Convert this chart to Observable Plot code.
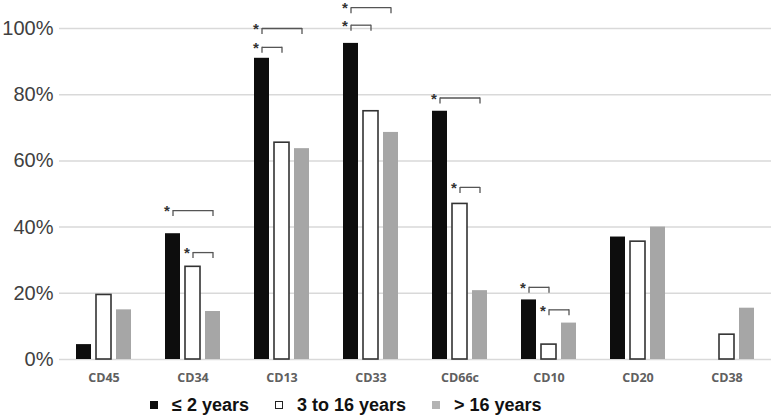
<!DOCTYPE html>
<html><head><meta charset="utf-8">
<script src="https://cdn.jsdelivr.net/npm/d3@7"></script>
<script src="https://cdn.jsdelivr.net/npm/@observablehq/plot@0.6"></script>
<style>
body{margin:0;background:#fff;width:772px;height:418px;overflow:hidden;}
#legend{display:flex;align-items:center;height:30px;padding-left:150px;font:bold 18px "Liberation Sans",Arial,sans-serif;color:#111;}
#legend .item{display:flex;align-items:center;margin-right:26px;}
#legend .sw{width:8px;height:8px;margin-right:14px;box-sizing:border-box;}
</style></head><body><div id="chart"></div><div id="legend"></div>
<script>
const markers = ["CD45","CD34","CD13","CD33","CD66c","CD10","CD20","CD38"];
const groups = ["≤ 2 years","3 to 16 years","> 16 years"];
const upTo2 = [4.5,38,91,95.5,75,18,37,0];
const from3to16 = [19.5,28,65.5,75,47,4.5,35.6,7.5];
const over16 = [15,14.5,63.7,68.6,20.8,11,40,15.5];
const yTicks = [0,20,40,60,80,100];
const bracketMarker = ["CD34","CD34","CD13","CD13","CD33","CD33","CD66c","CD66c","CD10","CD10"];
const bracketFrom = [0,1,0,0,0,0,0,1,0,1];
const bracketTo   = [2,2,2,1,2,1,2,2,1,2];
const bracketLevel = [45,32.3,100,94.3,106.3,101,79,52,21.8,15];

const fills = ["#0d0d0d","#ffffff","#a6a6a6"];
const strokes = [undefined,"#333333",undefined];

const series = [upTo2, from3to16, over16];
const data = markers.flatMap((m,i)=>series.map((s,j)=>({marker:m, group:groups[j], value:s[i]}))).filter(d=>d.value>0);
const brackets = bracketMarker.map((m,i)=>({marker:m, from:groups[bracketFrom[i]], to:groups[bracketTo[i]], level:bracketLevel[i]}));
const ends = brackets.flatMap(b=>[{marker:b.marker,g:b.from,level:b.level},{marker:b.marker,g:b.to,level:b.level}]);

const chart = Plot.plot({
  width:772, height:390, marginLeft:58, marginRight:0, marginTop:28, marginBottom:31,
  style:{fontFamily:"'Liberation Sans',Arial,sans-serif", background:"#fff"},
  fx:{domain:markers, padding:0, label:null},
  x:{domain:groups, paddingInner:0.25, paddingOuter:0.85, axis:null},
  y:{domain:[0,100], label:null},
  marks:[
    Plot.gridY(yTicks, {stroke:"#d9d9d9", strokeOpacity:1, strokeWidth:1.5}),
    Plot.axisY(yTicks, {tickFormat:d=>d+"%", tickSize:0, tickPadding:6, fontSize:20, fill:"#404040", label:null}),
    Plot.axisFx({tickSize:0, tickPadding:14, fontSize:12.5, fontWeight:"bold", fontFamily:"'Open Sans',sans-serif", fill:"#606060", label:null, anchor:"bottom"}),
    ...groups.map((g,j)=>Plot.barY(data.filter(d=>d.group===g), {fx:"marker", x:"group", y:"value", fill:fills[j], stroke:strokes[j], strokeWidth:1.6})),
    Plot.link(brackets, {fx:"marker", x1:"from", x2:"to", y1:"level", y2:"level", stroke:"#555", strokeWidth:1.3}),
    Plot.ruleX(ends, {fx:"marker", x:"g", y1:"level", y2:"level", insetBottom:-6, stroke:"#555", strokeWidth:1.3}),
    Plot.text(brackets, {fx:"marker", x:"from", y:"level", text:()=>"*", dx:-6, dy:1, fontSize:15, fontWeight:"bold", fill:"#333"})
  ]
});
document.getElementById("chart").appendChild(chart);

const legend = document.getElementById("legend");
groups.forEach((g,j)=>{
  const it = document.createElement("div"); it.className="item";
  const sw = document.createElement("span"); sw.className="sw";
  sw.style.background = j===2 ? "#b3b3b3" : fills[j];
  if (j===1) sw.style.border = "1.5px solid #222";
  const t = document.createElement("span"); t.textContent = g;
  it.appendChild(sw); it.appendChild(t); legend.appendChild(it);
});
</script></body></html>
